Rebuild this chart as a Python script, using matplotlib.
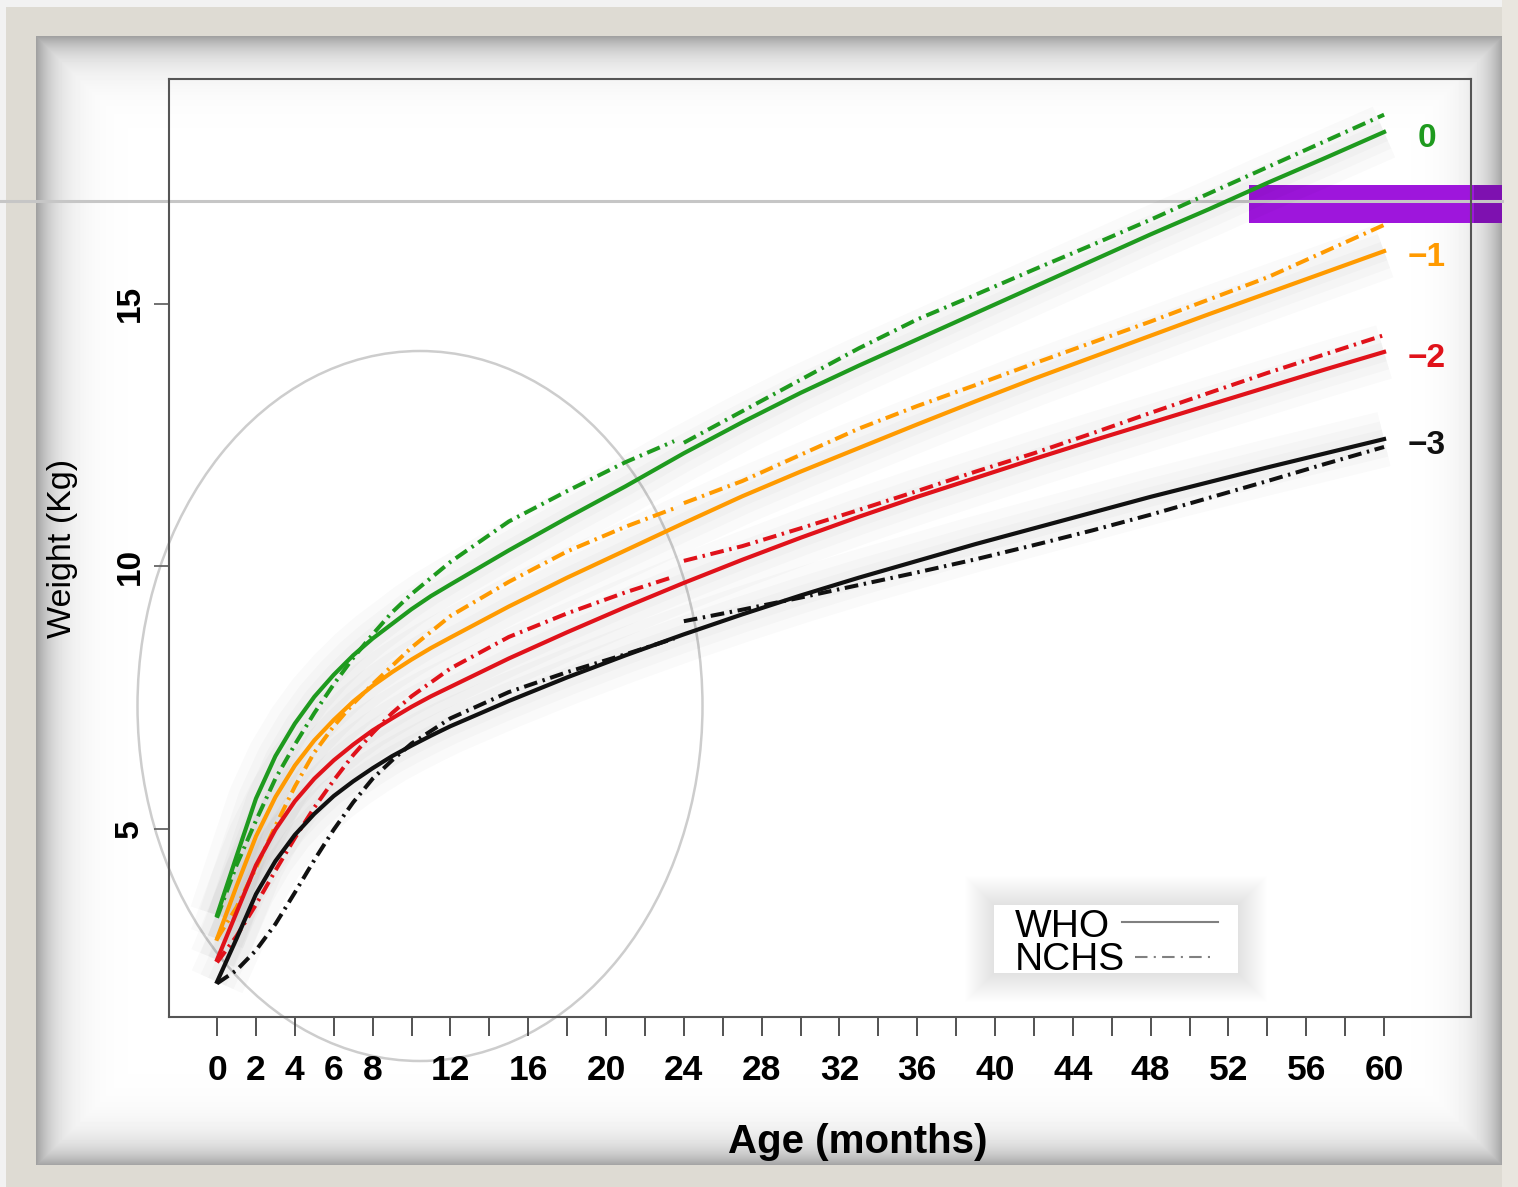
import numpy as np
import matplotlib
matplotlib.use('Agg')
import matplotlib.pyplot as plt
from matplotlib.patches import Rectangle, Ellipse

plt.rcParams['font.family'] = ['Liberation Sans', 'DejaVu Sans']

# WHO growth standard (solid lines), weight in kg by age in months
who_months = [0, 1, 2, 3, 4, 5, 6, 7, 8, 9, 10, 11, 12, 15, 18, 21, 24,
              27, 30, 33, 36, 39, 42, 45, 48, 51, 54, 57, 60]
who_z0 = [3.35, 4.47, 5.57, 6.38, 7.0, 7.51, 7.93, 8.3, 8.62, 8.9, 9.18,
          9.43, 9.65, 10.3, 10.92, 11.52, 12.15, 12.74, 13.3, 13.82, 14.32,
          14.82, 15.32, 15.82, 16.32, 16.8, 17.3, 17.78, 18.27]
who_z1 = [2.9, 3.9, 4.85, 5.6, 6.2, 6.68, 7.07, 7.42, 7.72, 7.98, 8.22,
          8.44, 8.64, 9.23, 9.78, 10.3, 10.82, 11.33, 11.8, 12.25, 12.7,
          13.14, 13.57, 13.98, 14.39, 14.8, 15.2, 15.6, 16.0]
who_z2 = [2.5, 3.4, 4.3, 4.98, 5.52, 5.95, 6.3, 6.6, 6.87, 7.1, 7.32, 7.52,
          7.7, 8.24, 8.74, 9.22, 9.68, 10.12, 10.54, 10.94, 11.32, 11.68,
          12.04, 12.39, 12.73, 13.07, 13.41, 13.75, 14.08]
who_z3 = [2.08, 2.9, 3.75, 4.38, 4.88, 5.28, 5.62, 5.9, 6.15, 6.38, 6.58,
          6.77, 6.95, 7.43, 7.88, 8.3, 8.7, 9.08, 9.44, 9.78, 10.1, 10.42,
          10.72, 11.02, 11.32, 11.6, 11.88, 12.15, 12.42]

# NCHS reference (dot-dash lines): length-based part, then height-based part
nchs_months_a = [0, 1, 2, 3, 4, 5, 6, 7, 8, 9, 10, 12, 15, 18, 21, 23.5]
nchs_z0_a = [3.3, 4.3, 5.15, 5.95, 6.6, 7.2, 7.75, 8.25, 8.7, 9.12, 9.47,
             10.08, 10.85, 11.43, 11.98, 12.38]
nchs_z1_a = [2.9, 3.5, 4.25, 5.05, 5.8, 6.45, 6.95, 7.38, 7.75, 8.1, 8.45,
             9.05, 9.7, 10.28, 10.75, 11.1]
nchs_z2_a = [2.45, 2.95, 3.55, 4.2, 4.82, 5.4, 5.92, 6.4, 6.82, 7.2, 7.52,
             8.05, 8.65, 9.1, 9.5, 9.8]
nchs_z3_a = [2.05, 2.3, 2.68, 3.18, 3.78, 4.4, 4.98, 5.5, 5.95, 6.3, 6.62,
             7.1, 7.6, 7.98, 8.32, 8.62]

nchs_months_b = [24, 27, 30, 33, 36, 39, 42, 45, 48, 51, 54, 57, 60]
nchs_z0_b = [12.35, 12.95, 13.55, 14.15, 14.7, 15.17, 15.65, 16.12, 16.6,
             17.1, 17.6, 18.1, 18.6]
nchs_z1_b = [11.2, 11.62, 12.12, 12.62, 13.05, 13.45, 13.86, 14.26, 14.66,
             15.08, 15.5, 16.0, 16.5]
nchs_z2_b = [10.1, 10.38, 10.72, 11.07, 11.43, 11.8, 12.15, 12.53, 12.92,
             13.3, 13.68, 14.04, 14.4]
nchs_z3_b = [8.95, 9.17, 9.4, 9.64, 9.88, 10.13, 10.4, 10.68, 10.98, 11.3,
             11.62, 11.95, 12.27]

z_labels = ['0', '\u22121', '\u22122', '\u22123']
z_colors = ['#1e9a1e', '#ff9a00', '#e0121a', '#111111']

x_ticks = list(range(0, 61, 2))
x_tick_labels = ['0', '2', '4', '6', '8', '', '12', '', '16', '', '20', '',
                 '24', '', '28', '', '32', '', '36', '', '40', '', '44', '',
                 '48', '', '52', '', '56', '', '60']
y_ticks = [5, 10, 15]

W, H = 1518, 1187
fig = plt.figure(figsize=(W / 100, H / 100), dpi=100)
fig.patch.set_facecolor('#dedbd3')

# slide-like frame behind the plot (pixel coordinates)
bg = fig.add_axes([0, 0, 1, 1], zorder=0)
bg.axis('off')
bg.add_patch(Rectangle((0, 0), W, 7, color='#f2f2f2', lw=0))
bg.add_patch(Rectangle((0, 0), 6, H, color='#f2f2f2', lw=0))
bg.add_patch(Rectangle((1502, 0), 16, H, color='#e9e6df', lw=0))
px0, py0, px1, py1 = 36, 36, 1502, 1165
yy, xx = np.mgrid[py0:py1, px0:px1]
dist = np.minimum.reduce([xx - px0, px1 - xx, yy - py0, py1 - yy])
shade = 1 - 0.37 * np.exp(-dist / 20.0)
bg.imshow(shade, cmap='gray', vmin=0, vmax=1, extent=(px0, px1, py1, py0),
          interpolation='bilinear', aspect='auto', zorder=1)
bg.add_patch(Rectangle((1249, 185), 253, 38, color='#9e16dc', lw=0, zorder=2))
bg.add_patch(Rectangle((1474, 185), 28, 38, color='black', alpha=0.2, lw=0,
                       zorder=2))
bg.plot([0, 1502], [201, 201], color='#c6c6c6', lw=2.2, zorder=3)
bg.add_patch(Ellipse((420, 706), 565, 710, fill=False, ec='#cdcdcd', lw=1.8,
                     zorder=3))

# legend box with soft shadow
for k in range(1, 30):
    bg.add_patch(Rectangle((994 - k, 905 - k), 244 + 2 * k, 68 + 2 * k,
                           color='black', alpha=0.0045, lw=0, zorder=3))
bg.add_patch(Rectangle((994, 905), 244, 68, color='white', lw=0, zorder=4))
bg.text(1015, 927, 'WHO', fontsize=28, va='center', ha='left', zorder=5)
bg.text(1015, 960, 'NCHS', fontsize=28, va='center', ha='left', zorder=5)
bg.plot([1122, 1218], [922, 922], color='#808080', lw=1.5, zorder=5)
bg.plot([1135, 1215], [957, 957], color='#808080', lw=1.5, zorder=5,
        dashes=(6, 3, 1, 3))
bg.set_xlim(0, W)
bg.set_ylim(H, 0)

ax = fig.add_axes([169 / W, 1 - 1017 / H, 1302 / W, 938 / H], zorder=1)
ax.set_facecolor('none')

who_series = [who_z0, who_z1, who_z2, who_z3]
nchs_a = [nchs_z0_a, nchs_z1_a, nchs_z2_a, nchs_z3_a]
nchs_b = [nchs_z0_b, nchs_z1_b, nchs_z2_b, nchs_z3_b]
dotdash = (3.4, 1.4, 0.6, 1.4)

# soft grey glow around the curves
for vals in who_series:
    for lw, a in [(40, 0.018), (26, 0.018), (14, 0.02)]:
        ax.plot(who_months, vals, color='black', lw=lw, alpha=a,
                solid_capstyle='butt', solid_joinstyle='round', zorder=1)

for vals_a, vals_b, col in zip(nchs_a, nchs_b, z_colors):
    ax.plot(nchs_months_a, vals_a, color=col, lw=2.9, dashes=dotdash,
            zorder=3)
    ax.plot(nchs_months_b, vals_b, color=col, lw=2.9, dashes=dotdash,
            zorder=3)

for vals, col, lab in zip(who_series, z_colors, z_labels):
    ax.plot(who_months, vals, color=col, lw=3.0, zorder=4,
            solid_joinstyle='round')
    ax.text(62.2, vals[-1] - 0.12, lab, color=col, fontsize=24,
            fontweight='bold', ha='center', va='center')

ax.set_xlim(-2.47, 64.47)
ax.set_ylim(1.41, 19.28)

for sp in ax.spines.values():
    sp.set_color('#555555')
    sp.set_linewidth(1.5)

ax.set_xticks(x_ticks)
ax.set_xticklabels(x_tick_labels, fontsize=25.5, fontweight='bold')
ax.tick_params(axis='x', length=13.5, width=1.3, color='#444444', pad=13)
ax.set_yticks(y_ticks)
ax.set_yticklabels([str(v) for v in y_ticks], fontsize=24,
                   fontweight='bold', rotation=90, va='center')
ax.tick_params(axis='y', length=11, width=1.3, color='#666666', pad=6)

ax.text(-0.082, 0.5, 'Weight (Kg)', transform=ax.transAxes, rotation=90,
        fontsize=24.5, ha='center', va='center')
ax.text(0.529, -0.133, 'Age (months)', transform=ax.transAxes,
        fontsize=29, fontweight='bold', ha='center', va='center')

fig.savefig('out.png', dpi=100, facecolor=fig.get_facecolor())
